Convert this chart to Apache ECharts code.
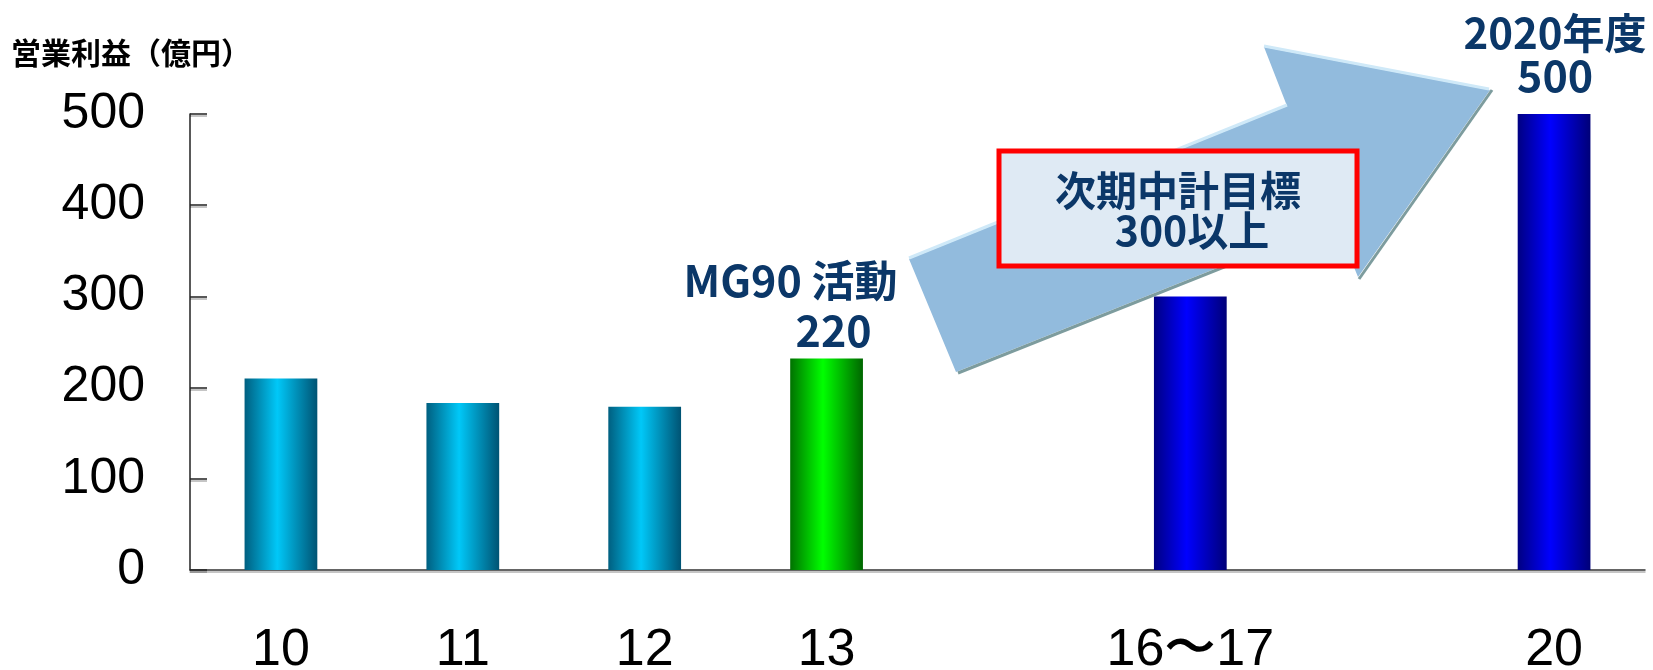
<!DOCTYPE html>
<html>
<head>
<meta charset="utf-8">
<script src="https://cdn.jsdelivr.net/npm/echarts@6/dist/echarts.min.js"></script>
<style>
html,body{margin:0;padding:0;background:#fff;}
#chart{width:1653px;height:670px;}
</style>
</head>
<body>
<div id="chart"></div>
<script>
// ---- data ----
const categories = ['10', '11', '12', '13', '', '16〜17', '', '20'];
const profits = [210, 183, 179, 232, null, 300, null, 500];
const barKinds = ['teal', 'teal', 'teal', 'green', null, 'blue', null, 'blue'];
const yMin = 0, yMax = 500, yStep = 100;
const axisTitle = '営業利益（億円）';
const noteMG90 = ['MG90 活動', '220'];
const note2020 = ['2020年度', '500'];
const targetText = ['次期中計目標', '300以上'];

// ---- styles ----
const palettes = {
  teal: ['#005f80', '#00c8f8', '#005373'],
  green: ['#007200', '#00ff00', '#006600'],
  blue: ['#000082', '#0000ff', '#000078']
};
function grad(kind) {
  const p = palettes[kind];
  return {type: 'linear', x: 0, y: 0, x2: 1, y2: 0,
    colorStops: [{offset: 0, color: p[0]}, {offset: 0.45, color: p[1]}, {offset: 1, color: p[2]}]};
}
const navy = '#0b3768';
const noteFont = '"Liberation Sans Narrow", "Noto Sans CJK JP", sans-serif';

const chart = echarts.init(document.getElementById('chart'));
const option = {
  animation: false,
  backgroundColor: '#fff',
  title: {
    text: axisTitle, left: 6, top: 33,
    textStyle: {fontSize: 30, fontWeight: 'bold', color: '#000', fontFamily: '"Noto Sans CJK JP", sans-serif'}
  },
  grid: {left: 190, right: 8, top: 114, bottom: 100, containLabel: false, outerBoundsMode: 'none'},
  xAxis: {
    type: 'category', data: categories,
    axisLine: {lineStyle: {color: '#333', width: 1.5, shadowColor: 'rgba(0,0,0,0.3)', shadowOffsetY: 2}},
    axisTick: {inside: true, length: 18, interval: 0, lineStyle: {color: '#333', width: 1.5}},
    axisLabel: {interval: 0, margin: 55, fontSize: 52, color: '#000', fontFamily: '"Liberation Sans Narrow", "Liberation Sans", sans-serif'}
  },
  yAxis: {
    type: 'value', min: yMin, max: yMax, interval: yStep,
    splitLine: {show: false},
    axisLine: {show: true, lineStyle: {color: '#222', width: 1.5}},
    axisTick: {show: true, inside: true, length: 17, lineStyle: {color: '#222', width: 1.5, shadowColor: 'rgba(0,0,0,0.3)', shadowOffsetY: 2}},
    axisLabel: {margin: 45, fontSize: 50, color: '#000', fontFamily: '"Liberation Sans", Arial, sans-serif'}
  },
  series: [{
    type: 'bar', barWidth: '40%',
    data: profits.map((v, i) => v == null ? null : {value: v, itemStyle: {color: grad(barKinds[i])}})
  }]
};
chart.setOption(option);

// ---- annotations positioned through the chart's scales ----
const top13 = chart.convertToPixel({seriesIndex: 0}, [3, profits[3]]);
const top20 = chart.convertToPixel({seriesIndex: 0}, [7, profits[7]]);
function note(text, x, y, size) {
  return {type: 'text', z: 20, style: {text: text, x: x, y: y, align: 'center', verticalAlign: 'middle',
    fill: navy, fontSize: size, fontWeight: 'bold', fontFamily: noteFont}};
}
const box = {x: 999, y: 151, w: 358, h: 115};
chart.setOption({
  graphic: [
    // arrow body
    {type: 'polygon', z: 10, shape: {points: [[956, 372], [909, 259], [1287, 106], [1264, 47], [1490, 90], [1358, 277], [1335, 221]]},
      style: {fill: '#92bbdd'}},
    {type: 'polyline', z: 11, shape: {points: [[958, 373], [1337, 222]]}, style: {stroke: '#7d9c9e', lineWidth: 3, fill: null}},
    {type: 'polyline', z: 11, shape: {points: [[1492, 90], [1359, 279]]}, style: {stroke: '#7d9c9e', lineWidth: 3, fill: null}},
    {type: 'polyline', z: 11, shape: {points: [[909, 258], [1287, 105]]}, style: {stroke: '#cfe9f8', lineWidth: 3, fill: null}},
    {type: 'polyline', z: 11, shape: {points: [[1264, 46], [1489, 89]]}, style: {stroke: '#cfe9f8', lineWidth: 3, fill: null}},
    // target box
    {type: 'rect', z: 12, shape: {x: box.x, y: box.y, width: box.w, height: box.h},
      style: {fill: '#dfeaf4', stroke: '#ff0000', lineWidth: 5}},
    note(targetText[0], box.x + 179, box.y + 39, 41),
    note(targetText[1], box.x + 193, box.y + 79, 41),
    note(noteMG90[0], top13[0] - 36, top13[1] - 78, 43),
    note(noteMG90[1], top13[0] + 7, top13[1] - 28, 43),
    note(note2020[0], top20[0] + 1, top20[1] - 81, 42),
    note(note2020[1], top20[0] + 1, top20[1] - 38, 43)
  ]
});
</script>
</body>
</html>
